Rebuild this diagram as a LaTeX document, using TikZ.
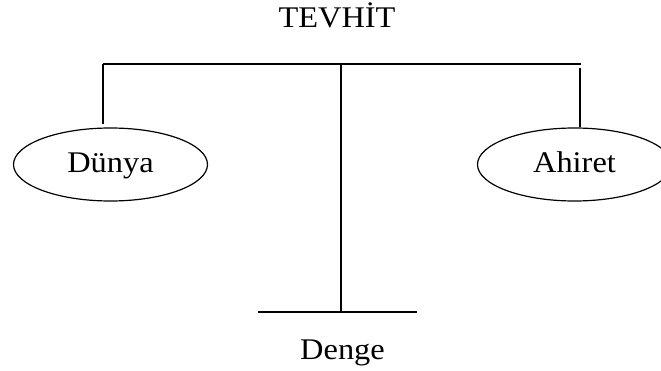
\documentclass[tikz,border=0pt]{standalone}
\usepackage{fontspec}
\setmainfont{Liberation Serif}
\usetikzlibrary{shapes.geometric}
\begin{document}
\begin{tikzpicture}[x=1pt,y=-1pt,
  lbl/.style={font=\fontsize{30}{35}\selectfont, inner sep=0pt, anchor=base, xscale=1.08},
  oval/.style={draw, ellipse, line width=1.2pt, minimum width=194pt, minimum height=73pt, inner sep=0pt},
  ln/.style={line width=1.3pt}]
\useasboundingbox (0,0) rectangle (661,371);
\node[lbl] (tevhit) at (337,27.5) {TEVHİT};
\node[lbl] (denge) at (342.5,359) {Denge};
\node[oval] (dunya) at (110.5,164.5) {};
\node[oval] (ahiret) at (574.5,164.5) {};
\node[lbl] (dunyat) at (110.5,173) {Dünya};
\node[lbl] (ahirett) at (574.5,173) {Ahiret};
\coordinate (tl) at (103,64);
\coordinate (tm) at (341,64);
\coordinate (tr) at (580.5,64);
\coordinate (trg) at (580,68);
\coordinate (bl) at (258,312);
\coordinate (bm) at (341,312);
\coordinate (br) at (417,312);
\draw[ln] (tl) -- (tr);
\draw[ln] (tl) -- ([yshift=3pt]tl |- dunya.north);
\draw[ln] (trg) -- (trg |- ahiret.north);
\draw[ln] (tm) -- (bm);
\draw[ln] (bl) -- (br);
\end{tikzpicture}
\end{document}
